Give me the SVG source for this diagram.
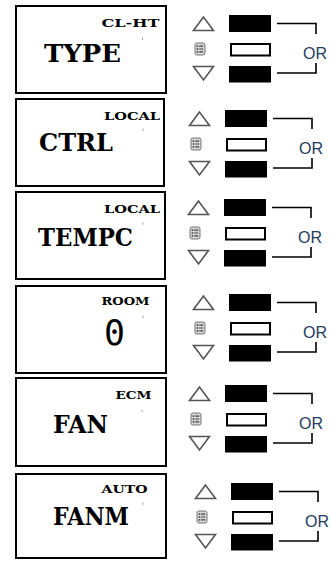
<svg xmlns="http://www.w3.org/2000/svg" xmlns:xlink="http://www.w3.org/1999/xlink" width="332" height="561" viewBox="0 0 332 561">
<style>
.box{fill:#fff;stroke:#000;stroke-width:2}
.big{font-family:"DejaVu Serif","Liberation Serif",serif;font-weight:bold;font-size:24px;fill:#000}
.small{font-family:"DejaVu Serif","Liberation Serif",serif;font-weight:bold;font-size:10.5px;fill:#000}
.seg{font-family:"DejaVu Sans Mono",monospace;font-size:36px;fill:#000}
.dot{fill:#aaa}
.tri{fill:#fff;stroke:#555;stroke-width:1.6;stroke-linejoin:miter}
.blk{fill:#000}
.wht{fill:#fff;stroke:#000;stroke-width:2}
.or{font-family:"Liberation Sans",Arial,sans-serif;font-size:16px;fill:#243b5e}
.con{fill:none;stroke:#000;stroke-width:1.6}
</style>
<defs>
<g id="menu">
<rect x="-34" y="28" width="10" height="12" rx="2" fill="#d6d6d6" stroke="#777" stroke-width="1"/>
<rect x="-32.3" y="30.3" width="1.6" height="1.6" fill="#444"/>
<rect x="-32.3" y="33.2" width="1.6" height="1.6" fill="#444"/>
<rect x="-32.3" y="36.1" width="1.6" height="1.6" fill="#444"/>
<path d="M-29.7,31.1H-25.8M-29.7,34H-25.8M-29.7,36.9H-25.8" stroke="#444" stroke-width="1.2"/>
</g>
<g id="btns">
<polygon class="tri" points="-25.5,2 -35.5,15.5 -15.5,15.5"/>
<rect class="blk" x="0" y="0" width="42" height="17"/>
<use xlink:href="#menu"/>
<rect class="wht" x="2" y="29" width="39" height="11.5"/>
<text class="or" x="74" y="43.5">OR</text>
<polygon class="tri" points="-35.5,51.5 -15.5,51.5 -25.5,65"/>
<rect class="blk" x="0" y="51" width="42" height="16.5"/>
</g>
<path id="bracket" d="M48,8.5H87V19M48,58H87V48"/>
</defs>

<g id="display1">
<rect class="box" x="16" y="6" width="150" height="87"/>
<text class="small" x="101.5" y="27" textLength="58" lengthAdjust="spacingAndGlyphs">CL-HT</text>
<text class="big" x="44" y="62" textLength="77" lengthAdjust="spacingAndGlyphs">TYPE</text>
<rect class="dot" x="142" y="37.5" width="1" height="2.5"/>
</g>
<g id="display2">
<rect class="box" x="16" y="99" width="148" height="87"/>
<text class="small" x="104" y="120" textLength="56" lengthAdjust="spacingAndGlyphs">LOCAL</text>
<text class="big" x="39" y="151" textLength="74" lengthAdjust="spacingAndGlyphs">CTRL</text>
<rect class="dot" x="142.5" y="128.5" width="1" height="2.5"/>
</g>
<g id="display3">
<rect class="box" x="16" y="192" width="149" height="87"/>
<text class="small" x="104" y="213" textLength="56" lengthAdjust="spacingAndGlyphs">LOCAL</text>
<text class="big" x="38" y="246" textLength="95" lengthAdjust="spacingAndGlyphs">TEMPC</text>
<rect class="dot" x="142.5" y="222.5" width="1" height="2.5"/>
</g>
<g id="display4">
<rect class="box" x="16" y="286" width="150" height="87"/>
<text class="small" x="101.5" y="305" textLength="48" lengthAdjust="spacingAndGlyphs">ROOM</text>
<text class="seg" x="104" y="345" textLength="21" lengthAdjust="spacingAndGlyphs">0</text>
<rect class="dot" x="142.5" y="315.5" width="1" height="2.5"/>
</g>
<g id="display5">
<rect class="box" x="16" y="378" width="150" height="88"/>
<text class="small" x="115.5" y="399" textLength="36" lengthAdjust="spacingAndGlyphs">ECM</text>
<text class="big" x="53" y="433" textLength="55" lengthAdjust="spacingAndGlyphs">FAN</text>
<rect class="dot" x="141.5" y="409.5" width="1" height="2.5"/>
</g>
<g id="display6">
<rect class="box" x="16" y="474" width="150" height="84"/>
<text class="small" x="101.5" y="493" textLength="46" lengthAdjust="spacingAndGlyphs">AUTO</text>
<text class="big" x="53" y="525" textLength="76" lengthAdjust="spacingAndGlyphs">FANM</text>
<rect class="dot" x="142.5" y="502.5" width="1" height="2.5"/>
</g>

<g id="buttons1"><use xlink:href="#btns" transform="translate(229,15)"/></g>
<g id="buttons2"><use xlink:href="#btns" transform="translate(225,110)"/></g>
<g id="buttons3"><use xlink:href="#btns" transform="translate(224,199)"/></g>
<g id="buttons4"><use xlink:href="#btns" transform="translate(229,294)"/></g>
<g id="buttons5"><use xlink:href="#btns" transform="translate(225,385)"/></g>
<g id="buttons6"><use xlink:href="#btns" transform="translate(231,483)"/></g>

<g id="connectors" class="con">
<use xlink:href="#bracket" transform="translate(229,15)"/>
<use xlink:href="#bracket" transform="translate(225,110)"/>
<use xlink:href="#bracket" transform="translate(224,199)"/>
<use xlink:href="#bracket" transform="translate(229,294)"/>
<use xlink:href="#bracket" transform="translate(225,385)"/>
<use xlink:href="#bracket" transform="translate(231,483)"/>
</g>
</svg>
